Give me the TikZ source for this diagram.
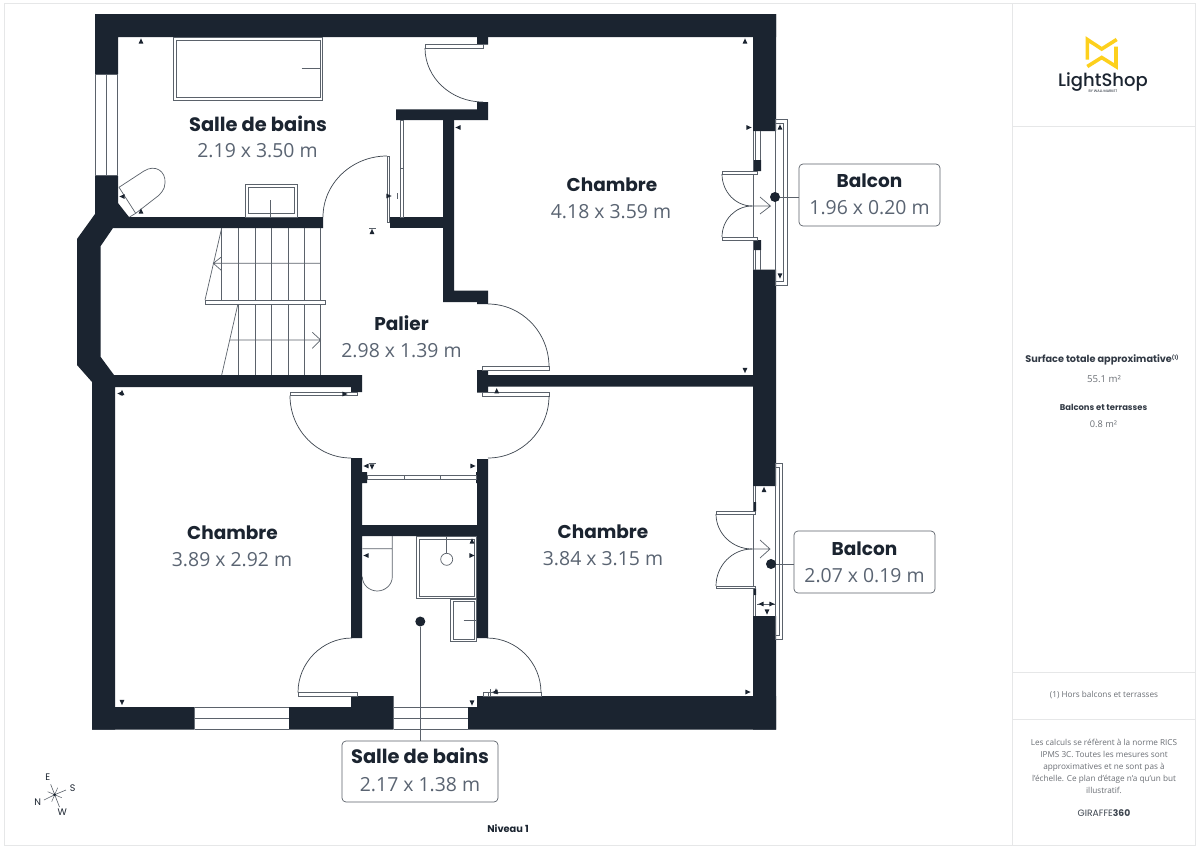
\documentclass[tikz,border=0pt]{standalone}
\usepackage{fontspec}
\setmainfont{Open Sans}
\newfontfamily\pop{Poppins}
\newfontfamily\popm{Poppins Medium}
\definecolor{wallc}{HTML}{1B2430}
\definecolor{valc}{HTML}{5A6472}
\definecolor{linec}{HTML}{5B626B}
\definecolor{framec}{HTML}{E6E7E8}
\definecolor{sidec}{HTML}{6B6F75}
\definecolor{logoc}{HTML}{FDD01C}
\tikzset{
  wallfill/.style={fill=wallc,draw=none},
  thinl/.style={draw=linec,line width=0.7pt},
  arcline/.style={draw=wallc!85!white,line width=0.7pt},
  panel/.style={draw=linec,fill=white,line width=0.7pt},
  roomname/.style={inner sep=0pt,text=wallc,font=\pop\bfseries\fontsize{18.5}{20}\selectfont},
  roomnamel/.style={inner sep=0pt,text=wallc,font=\pop\bfseries\fontsize{19.4}{20}\selectfont},
  roomval/.style={inner sep=0pt,text=valc,font=\fontsize{19.4}{20}\selectfont},
  labelbox/.style={draw=linec,fill=white,line width=0.7pt,rounded corners=4pt,inner sep=0pt},
  dotn/.style={circle,fill=wallc,inner sep=0pt,minimum size=10pt},
  sidebold/.style={inner sep=0pt,text=wallc!90!white,font=\pop\bfseries\fontsize{9.7}{11}\selectfont},
  sidetext/.style={inner sep=0pt,text=sidec,font=\fontsize{8.2}{12}\selectfont,align=center},
  compasst/.style={inner sep=0pt,text=wallc,font=\pop\fontsize{9.5}{10}\selectfont},
}
\newcommand\doorarc[4]{\pgfmathsetmacro\cya{#2+.55*(#4-#2)}\pgfmathsetmacro\cxb{#3-.55*(#3-#1)}\draw[arcline] (#1,#2) .. controls (#1,\cya) and (\cxb,#4) .. (#3,#4);}
\newcommand\mk[3]{\fill[wallc,shift={(#1,#2)},rotate=-#3] (-2.4,2.6) -- (2.4,2.6) -- (0,-2.6) -- cycle;}
\begin{document}
\begin{tikzpicture}[x=1pt,y=-1pt]
\useasboundingbox (0,0) rectangle (1200,849);
\fill[white] (0,0) rectangle (1200,849);
% frame
\draw[framec,line width=1pt] (4,3) rectangle (1195,845);
\draw[framec,line width=1pt] (1012,3) -- (1012,845) (1012,126) -- (1195,126) (1012,672.5) -- (1195,672.5) (1012,719) -- (1195,719);
% walls
\fill[wallfill] (95,14) rectangle (776,37) (95,14) rectangle (118,74);
\fill[wallfill] (95,176) -- (118,176) -- (118,203) -- (129,217) -- (323,217) -- (323,228) -- (113,228) -- (100.7,246) -- (100.7,357) -- (114,375) -- (362,375) -- (362,392) -- (351,392) -- (351,387) -- (115,387) -- (115,729.5) -- (92,729.5) -- (92,382) -- (77,365) -- (77,239) -- (95,214) -- cycle;
\fill[wallfill] (92,707) rectangle (194.7,729.5) (289,707) rectangle (393.5,729.5) (351,696) rectangle (393.5,707);
\fill[wallfill] (468,707) rectangle (776,729.5) (477,696) rectangle (776,707);
\fill[wallfill] (753,14) rectangle (776,131) (753,269.5) rectangle (776,486) (753,616) rectangle (776,729.5);
\fill[wallfill] (477,37) rectangle (488,44.5) (477,102) rectangle (488,120) (396,109.3) rectangle (477,120);
\fill[wallfill] (443,120) rectangle (454,302) (454,290.7) rectangle (488,302) (477,302) rectangle (488,304);
\fill[wallfill] (390,217) rectangle (443,228);
\fill[wallfill] (477,370) rectangle (488,392.7) (488,375) rectangle (753,386.5);
\fill[wallfill] (351,458) rectangle (362,638) (362,472) rectangle (367,483) (362,525) rectangle (477,536) (477,459) rectangle (488,638) (476,472) rectangle (477,483);
\fill[wallfill] (753,160) rectangle (761,171) (753,240) rectangle (761,250) (753,502) rectangle (756,511) (753,588.5) rectangle (756,595);
% left and bottom windows
\draw[thinl] (95.7,74) rectangle (117.7,175.7) (106.7,74) -- (106.7,175.7);
\draw[thinl] (194.7,707) -- (289,707) (194.7,718.5) -- (289,718.5) (194.7,729.5) -- (289,729.5);
\draw[thinl] (393.5,707) -- (468,707) (393.5,718.5) -- (468,718.5) (393.5,729.5) -- (468,729.5);
% bathtub
\draw[thinl] (173.7,37.7) rectangle (322.3,100) (176,40) rectangle (320,97.7) (301.7,68) -- (320,68);
% sink
\draw[thinl] (245,184.5) rectangle (297,217) (248,187) rectangle (294,213.3) (270.7,200) -- (270.7,217);
% toilet upper
\draw[thinl] (119,187.3) -- (144,171) .. controls (155,164) and (166,171) .. (165,183) .. controls (165,190) and (160,194) .. (158,196) -- (135.7,213.3) -- (129.5,217) (119,187.3) -- (135.7,213.3);
% stairs
\draw[thinl] (221.7,228) -- (221.7,300) (238.3,228) -- (238.3,300) (255,228) -- (255,300) (271.7,228) -- (271.7,300) (288.3,228) -- (288.3,300) (304.3,228) -- (304.3,300) (320.7,228) -- (320.7,300);
\draw[thinl] (238,304.3) -- (238,375) (255,304.3) -- (255,375) (271.5,304.3) -- (271.5,375) (288,304.3) -- (288,375) (304.3,304.3) -- (304.3,375) (320.7,304.3) -- (320.7,375);
\draw[thinl] (205,300) rectangle (325.7,304.3);
\draw[thinl] (221.7,228) -- (205,300) (237.7,305) -- (221.7,375);
\draw[thinl] (320.7,263.3) -- (213.3,263.3) (221.7,256.7) -- (213.3,263.3) -- (221.7,270.7);
\draw[thinl] (230,340) -- (320.7,340) (312.3,332.3) -- (320.7,340) -- (312.3,348.3);
% doors: panels
\draw[panel] (425,44.5) rectangle (483,48);
\draw[panel] (387,156) rectangle (389.5,222);
\draw[thinl] (400.5,120) rectangle (403,217) (400,168) -- (403.5,168);
\draw[panel] (290,392.3) rectangle (357,395.7);
\draw[panel] (298,692.5) rectangle (357,696);
\draw[panel] (483,692.5) rectangle (541,696) (488,692.5) -- (488,696);
\draw[panel] (482,366.7) rectangle (549,370.3);
\draw[panel] (482,392.7) rectangle (549,396);
\draw[panel] (367,475) rectangle (476,479) (404,475) -- (404,479) (440,475) -- (440,479);
\doorarc{425}{48}{483}{102}
\doorarc{323}{217}{387}{156}
\doorarc{290}{395.7}{351}{458}
\doorarc{298}{692.5}{352}{638}
\doorarc{541}{692.5}{487}{638}
\doorarc{549}{366.7}{488}{304}
\doorarc{549}{396}{488}{458}
% shower
\draw[thinl] (416.7,536.7) rectangle (476.7,598.3) (419.3,539) rectangle (474.7,596) (446.7,536.7) -- (446.7,553.3);
\draw[thinl] (446.7,559.3) circle (6);
% small sink
\draw[thinl] (450.7,599) rectangle (476.7,641.3) (453.3,601.7) rectangle (474.3,639) (463.7,620) -- (476.7,620);
% toilet lower
\draw[thinl] (362.3,548.7) -- (392.3,548.7) (392.3,536) -- (392.3,576.7) .. controls (392.3,585) and (385,591) .. (377.3,591) .. controls (369.5,591) and (362.3,585) .. (362.3,576.7);
% upper balcony
\draw[thinl] (775,119) rectangle (787,285);
\draw[thinl] (775,123) rectangle (783,281);
\draw[thinl] (753,131) -- (753,269.5);
\draw[thinl] (755.5,131) -- (755.5,160) (760.7,131) -- (760.7,160) (755.5,250) -- (755.5,269.5) (760.7,250) -- (760.7,269.5);
\draw[panel] (722,171) rectangle (757,174);
\draw[panel] (722,237) rectangle (757,240);
\doorarc{722}{174}{752}{206}
\doorarc{722}{237}{752}{206}
\draw[thinl] (752,206) -- (770.5,206) (760,197) -- (770.5,206) -- (760,214);
% lower balcony
\draw[thinl] (775,463) rectangle (782,639);
\draw[thinl] (775,467) rectangle (779,635);
\draw[thinl] (753,486) -- (753,616);
\draw[thinl] (755.8,486) -- (755.8,502) (755.8,595) -- (755.8,616);
\draw[panel] (716,511) rectangle (755,514);
\draw[panel] (716,586) rectangle (755,588.5);
\doorarc{716}{514}{752}{549}
\doorarc{716}{586}{752}{549}
\draw[thinl] (752,549) -- (770,549) (760,540) -- (770,549) -- (760,558);
\draw[thinl] (757,604) -- (775,604);
% measuring marks
\mk{141}{41}{0}
\mk{122}{196.5}{-90}
\mk{141}{211}{0}
\mk{458}{127.5}{-90}
\mk{389}{196}{90}
\mk{372}{231.5}{0}
\mk{745}{41}{0}
\mk{749}{127.5}{90}
\mk{780}{127}{0}
\mk{780}{276}{180}
\mk{496.7}{390.7}{0}
\mk{120}{393.5}{-90}
\mk{122}{392.5}{0}
\mk{345}{394}{90}
\mk{366}{466}{-90}
\mk{372}{467}{180}
\mk{473}{466}{90}
\mk{472}{541}{0}
\mk{472}{555.5}{90}
\mk{366}{555.5}{-90}
\mk{472}{703}{180}
\mk{495}{692}{-90}
\mk{496}{691}{0}
\mk{122}{702.5}{180}
\mk{745}{370.5}{180}
\mk{748}{692}{90}
\mk{764}{489.5}{0}
\mk{767}{612}{180}
\mk{761}{604}{-90}
\mk{772}{604}{90}
\draw[thinl] (369,228) -- (376,228) (369,463) -- (376,463) (397,193) -- (397,199) (490,689) -- (490,696);
% room labels
\node[roomnamel] (n1) at (258,124) {Salle de bains};
\node[roomval] (v1) at (257.5,150.5) {2.19 x 3.50 m};
\node[roomname] (n2) at (612,185) {Chambre};
\node[roomval] (v2) at (611,212) {4.18 x 3.59 m};
\node[roomname] (n3) at (401.5,323.5) {Palier};
\node[roomval] (v3) at (401.5,351) {2.98 x 1.39 m};
\node[roomname] (n4) at (232.5,533) {Chambre};
\node[roomval] (v4) at (232,560) {3.89 x 2.92 m};
\node[roomname] (n5) at (603,532) {Chambre};
\node[roomval] (v5) at (603,558.5) {3.84 x 3.15 m};
% callouts
\node[labelbox,minimum width=141pt,minimum height=62pt] (b1) at (869.5,195) {};
\node[roomname] (b1n) at (869.5,181) {Balcon};
\node[roomval] (b1v) at (869.5,208) {1.96 x 0.20 m};
\node[dotn] (d1) at (775,197) {};
\draw[thinl] (d1) -- (d1 -| b1.west);
\node[labelbox,minimum width=141pt,minimum height=62pt] (b2) at (864.5,562) {};
\node[roomname] (b2n) at (864.5,548.5) {Balcon};
\node[roomval] (b2v) at (864.5,575.5) {2.07 x 0.19 m};
\node[dotn] (d2) at (771,564) {};
\draw[thinl] (d2) -- (d2 -| b2.west);
\node[labelbox,minimum width=156pt,minimum height=61pt] (b3) at (420,771.5) {};
\node[roomnamel] (b3n) at (420,756) {Salle de bains};
\node[roomval] (b3v) at (420,785) {2.17 x 1.38 m};
\node[dotn] (d3) at (420.3,621.5) {};
\draw[thinl] (d3) -- (d3 |- b3.north);
% compass
\coordinate (cc) at (54.7,794.7);
\draw[linec,line width=0.6pt] (cc) -- (50.7,784.3) (cc) -- (66,790) (cc) -- (44,800) (cc) -- (59.5,807);
\draw[linec,line width=0.5pt] (cc) -- ++(3,-7) (cc) -- ++(7,3) (cc) -- ++(-3,7) (cc) -- ++(-7,-3);
\fill[wallc] (cc) circle (1.5);
\node[compasst] (ce) at (47.7,777.5) {E};
\node[compasst] (cs) at (72.7,787.7) {S};
\node[compasst] (cn) at (37.7,802.5) {N};
\node[compasst] (cw) at (62.3,812.5) {W};
\node[inner sep=0pt,text=wallc,font=\pop\bfseries\fontsize{9.8}{11}\selectfont] (lvl) at (508,829) {Niveau 1};
% logo
\draw[logoc,line width=3.6pt,line join=miter] (1116.7,39.5) -- (1101.7,49) -- (1087.3,39.5) -- (1087.3,59.5);
\draw[logoc,line width=3.6pt,line join=miter] (1087.3,66.5) -- (1101.7,57.5) -- (1116,66.5) -- (1116,46.7);
\node[inner sep=0pt,text=wallc,font=\popm\fontsize{18}{20}\selectfont] (logo) at (1103,82) {LightShop};
\node[inner sep=0pt,text=wallc,font=\pop\fontsize{3.6}{4}\selectfont] (logob) at (1103,91.5) {BY WALL·MARKET};
% sidebar
\node[sidebold] (s1) at (1102,359.5) {Surface totale approximative\raisebox{3pt}{\fontsize{5}{6}\selectfont (1)}};
\node[sidetext,font=\fontsize{9.6}{12}\selectfont] (s2) at (1104,379.5) {55.1 m²};
\node[sidebold,font=\pop\bfseries\fontsize{8.4}{10}\selectfont] (s3) at (1103.5,407) {Balcons et terrasses};
\node[sidetext,font=\fontsize{9.2}{12}\selectfont] (s4) at (1103.5,424) {0.8 m²};
\node[sidetext] (s5) at (1104,695.5) {(1) Hors balcons et terrasses};
\node[sidetext] (s6) at (1104,766.7) {Les calculs se réfèrent à la norme RICS\\IPMS 3C. Toutes les mesures sont\\approximatives et ne sont pas à\\l’échelle. Ce plan d’étage n’a qu’un but\\illustratif.};
\node[inner sep=0pt,text=wallc!85!white,font=\pop\fontsize{9.2}{10}\selectfont] (s7) at (1104,813.5) {GIRAFFE{\bfseries 360}};
\end{tikzpicture}
\end{document}
